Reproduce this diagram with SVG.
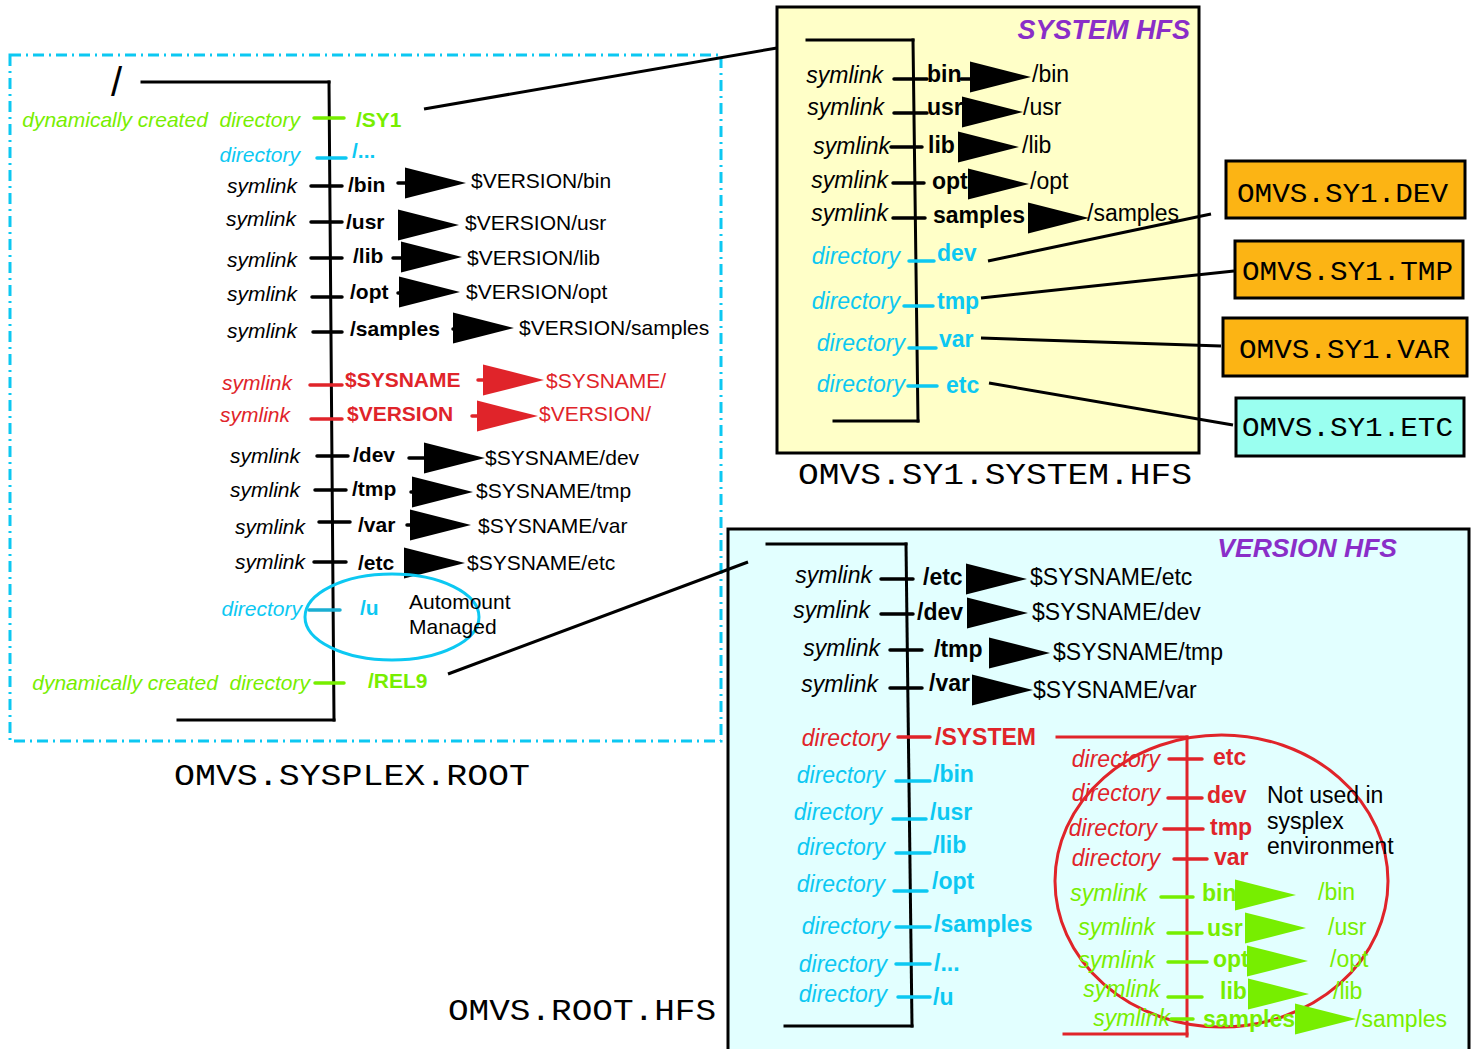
<svg xmlns="http://www.w3.org/2000/svg" xmlns:xlink="http://www.w3.org/1999/xlink" width="1477" height="1049" viewBox="0 0 1477 1049">
<defs>
<style>
text{font-family:"Liberation Sans",Arial,Helvetica,sans-serif;font-size:21px;fill:#000}
.l{font-style:italic;text-anchor:end}
.n{font-weight:bold}
.m{font-family:"Liberation Mono","Courier New",monospace;font-size:30px}
.big text{font-size:23px}
.big text.m{font-size:30px}
line{stroke-width:3.5;stroke-linecap:round;stroke:#000}
.tree{stroke-width:3;stroke-linecap:square}
.K text{fill:#000}.K line{stroke:#000}.K use{fill:#000}
.G text{fill:#77ee00}.G line{stroke:#77ee00}.G use{fill:#77ee00}
.C text{fill:#0cc8f2}.C line{stroke:#0cc8f2}.C use{fill:#0cc8f2}
.R text{fill:#e0242a}.R line{stroke:#e0242a}.R use{fill:#e0242a}
.conn line{stroke:#000;stroke-width:3;stroke-linecap:butt}
.ttl{font-weight:bold;font-style:italic;fill:#8a2ec8}
</style>
<path id="tri" d="M0,-15.5 L61,0 L0,15.5 Z"/>
</defs>
<rect width="1477" height="1049" fill="#fff"/>

<!-- ===== Left panel: OMVS.SYSPLEX.ROOT ===== -->
<g id="sysplex-root">
<rect x="10" y="55" width="711" height="686" fill="none" stroke="#0cc8f2" stroke-width="3" stroke-dasharray="11 5 2 5"/>
<text x="111" y="96" style="font-size:40px">/</text>
<line class="tree" x1="142" y1="82" x2="329" y2="82"/>
<line class="tree" x1="329" y1="82" x2="334" y2="720"/>
<line class="tree" x1="178" y1="720" x2="334" y2="720"/>
<text class="m" x="174" y="785" textLength="356" lengthAdjust="spacingAndGlyphs">OMVS.SYSPLEX.ROOT</text>
</g>

<g id="l-sy1" class="G"><text class="l" x="300" y="127" style="white-space:pre">dynamically created  directory</text><line x1="314" y1="118" x2="344" y2="118"/><text class="n" x="356" y="127">/SY1</text></g>
<g id="l-dots" class="C"><text class="l" x="300" y="162">directory</text><line x1="317" y1="158" x2="346" y2="158"/><text class="n" x="352" y="158">/...</text></g>
<g id="l-bin" class="K"><text class="l" x="297" y="193">symlink</text><line x1="311" y1="186" x2="342" y2="186"/><text class="n" x="348" y="192">/bin</text><line x1="398" y1="183" x2="406" y2="183"/><use href="#tri" x="405" y="183"/><text x="471" y="188">$VERSION/bin</text></g>
<g id="l-usr" class="K"><text class="l" x="296" y="226">symlink</text><line x1="311" y1="222" x2="342" y2="222"/><text class="n" x="346" y="229">/usr</text><use href="#tri" x="398" y="225"/><text x="465" y="230">$VERSION/usr</text></g>
<g id="l-lib" class="K"><text class="l" x="297" y="267">symlink</text><line x1="311" y1="258" x2="342" y2="258"/><text class="n" x="353" y="263">/lib</text><line x1="393" y1="258" x2="402" y2="258"/><use href="#tri" x="401" y="257"/><text x="467" y="265">$VERSION/lib</text></g>
<g id="l-opt" class="K"><text class="l" x="297" y="301">symlink</text><line x1="312" y1="297" x2="342" y2="297"/><text class="n" x="350" y="299">/opt</text><line x1="398" y1="293" x2="401" y2="293"/><use href="#tri" x="399" y="292"/><text x="466" y="299">$VERSION/opt</text></g>
<g id="l-samples" class="K"><text class="l" x="297" y="338">symlink</text><line x1="313" y1="332" x2="342" y2="332"/><text class="n" x="350" y="336">/samples</text><line x1="453" y1="329" x2="456" y2="329"/><use href="#tri" x="453" y="328"/><text x="519" y="335">$VERSION/samples</text></g>
<g id="l-sysname" class="R"><text class="l" x="292" y="390">symlink</text><line x1="310" y1="385" x2="342" y2="385"/><text class="n" x="345" y="387">$SYSNAME</text><line x1="478" y1="380" x2="485" y2="380"/><use href="#tri" x="483" y="380"/><text x="546" y="388">$SYSNAME/</text></g>
<g id="l-version" class="R"><text class="l" x="290" y="422">symlink</text><line x1="311" y1="419" x2="342" y2="419"/><text class="n" x="347" y="421">$VERSION</text><line x1="472" y1="416" x2="479" y2="416"/><use href="#tri" x="477" y="416"/><text x="539" y="421">$VERSION/</text></g>
<g id="l-dev" class="K"><text class="l" x="300" y="463">symlink</text><line x1="317" y1="456" x2="348" y2="456"/><text class="n" x="353" y="462">/dev</text><line x1="409" y1="458" x2="425" y2="458"/><use href="#tri" x="424" y="458"/><text x="485" y="465">$SYSNAME/dev</text></g>
<g id="l-tmp" class="K"><text class="l" x="300" y="497">symlink</text><line x1="315" y1="490" x2="346" y2="490"/><text class="n" x="352" y="496">/tmp</text><line x1="411" y1="492" x2="414" y2="492"/><use href="#tri" x="412" y="492"/><text x="476" y="498">$SYSNAME/tmp</text></g>
<g id="l-var" class="K"><text class="l" x="305" y="534">symlink</text><line x1="319" y1="522" x2="350" y2="522"/><text class="n" x="358" y="532">/var</text><line x1="407" y1="525" x2="412" y2="525"/><use href="#tri" x="410" y="525"/><text x="478" y="533">$SYSNAME/var</text></g>
<g id="l-etc" class="K"><text class="l" x="305" y="569">symlink</text><line x1="314" y1="562" x2="346" y2="562"/><text class="n" x="358" y="570">/etc</text><use href="#tri" x="404" y="563"/><text x="467" y="570">$SYSNAME/etc</text></g>
<g id="l-u" class="C"><text class="l" x="302" y="616">directory</text><line x1="309" y1="610" x2="340" y2="610" style="stroke:#1aaed2"/><text class="n" x="360" y="615">/u</text><ellipse cx="392" cy="617" rx="87" ry="43" fill="none" stroke="#0cc8f2" stroke-width="3"/><text x="409" y="609" style="fill:#000">Automount</text><text x="409" y="634" style="fill:#000">Managed</text></g>
<g id="l-rel9" class="G"><text class="l" x="310" y="690" style="white-space:pre">dynamically created  directory</text><line x1="315" y1="683" x2="344" y2="683"/><text class="n" x="368" y="688">/REL9</text></g>

<!-- ===== System HFS ===== -->
<g id="system-hfs" class="big">
<rect x="777" y="7" width="422" height="446" fill="#ffffc8" stroke="#000" stroke-width="3"/>
<text class="ttl" x="1190" y="39" text-anchor="end" style="font-size:27px">SYSTEM HFS</text>
<line class="tree" x1="807" y1="40" x2="913" y2="40"/>
<line class="tree" x1="913" y1="40" x2="918" y2="421"/>
<line class="tree" x1="834" y1="421" x2="918" y2="421"/>
<text class="m" x="798" y="484" textLength="394" lengthAdjust="spacingAndGlyphs">OMVS.SY1.SYSTEM.HFS</text>
</g>
<g id="s-bin" class="K big"><text class="l" x="883" y="83">symlink</text><line x1="894" y1="79" x2="927" y2="79"/><text class="n" x="927" y="82">bin</text><line x1="961" y1="79" x2="971" y2="79"/><use href="#tri" x="970" y="77"/><text x="1032" y="82">/bin</text></g>
<g id="s-usr" class="K big"><text class="l" x="884" y="115">symlink</text><line x1="894" y1="113" x2="927" y2="113"/><text class="n" x="927" y="115">usr</text><use href="#tri" x="962" y="112"/><text x="1023" y="115">/usr</text></g>
<g id="s-lib" class="K big"><text class="l" x="890" y="154">symlink</text><line x1="891" y1="147" x2="922" y2="147"/><text class="n" x="928" y="153">lib</text><use href="#tri" x="958" y="147"/><text x="1022" y="153">/lib</text></g>
<g id="s-opt" class="K big"><text class="l" x="888" y="188">symlink</text><line x1="893" y1="183" x2="924" y2="183"/><text class="n" x="932" y="189">opt</text><use href="#tri" x="968" y="184"/><text x="1030" y="189">/opt</text></g>
<g id="s-samples" class="K big"><text class="l" x="888" y="221">symlink</text><line x1="893" y1="218" x2="925" y2="218"/><text class="n" x="933" y="223">samples</text><use href="#tri" x="1028" y="218"/><text x="1087" y="221">/samples</text></g>
<g id="s-dev" class="C big"><text class="l" x="900" y="264">directory</text><line x1="909" y1="261" x2="934" y2="261"/><text class="n" x="937" y="261">dev</text></g>
<g id="s-tmp" class="C big"><text class="l" x="900" y="309">directory</text><line x1="904" y1="306" x2="933" y2="306"/><text class="n" x="937" y="309">tmp</text></g>
<g id="s-var" class="C big"><text class="l" x="905" y="351">directory</text><line x1="909" y1="348" x2="936" y2="348"/><text class="n" x="939" y="347">var</text></g>
<g id="s-etc" class="C big"><text class="l" x="905" y="392">directory</text><line x1="908" y1="386" x2="937" y2="386"/><text class="n" x="946" y="393">etc</text></g>

<!-- ===== Data set boxes ===== -->
<g id="box-dev"><rect x="1226" y="161" width="239" height="57" fill="#fcb414" stroke="#000" stroke-width="3"/><text class="m" x="1237" y="202" textLength="211" lengthAdjust="spacingAndGlyphs" style="font-size:28px">OMVS.SY1.DEV</text></g>
<g id="box-tmp"><rect x="1235" y="241" width="228" height="57" fill="#fcb414" stroke="#000" stroke-width="3"/><text class="m" x="1242" y="280" textLength="211" lengthAdjust="spacingAndGlyphs" style="font-size:28px">OMVS.SY1.TMP</text></g>
<g id="box-var"><rect x="1223" y="318" width="244" height="58" fill="#fcb414" stroke="#000" stroke-width="3"/><text class="m" x="1239" y="358" textLength="211" lengthAdjust="spacingAndGlyphs" style="font-size:28px">OMVS.SY1.VAR</text></g>
<g id="box-etc"><rect x="1236" y="398" width="228" height="58" fill="#9afff0" stroke="#000" stroke-width="3"/><text class="m" x="1242" y="436" textLength="211" lengthAdjust="spacingAndGlyphs" style="font-size:28px">OMVS.SY1.ETC</text></g>

<!-- ===== Version HFS ===== -->
<g id="version-hfs" class="big">
<rect x="728" y="529" width="741" height="530" fill="#e2ffff" stroke="#000" stroke-width="3"/>
<text class="ttl" x="1397" y="557" text-anchor="end" style="font-size:26.5px">VERSION HFS</text>
<line class="tree" x1="767" y1="544" x2="906" y2="544"/>
<line class="tree" x1="906" y1="544" x2="912" y2="1026"/>
<line class="tree" x1="785" y1="1026" x2="912" y2="1026"/>
<text class="m" x="448" y="1020" textLength="268" lengthAdjust="spacingAndGlyphs">OMVS.ROOT.HFS</text>
</g>
<g id="v-etc" class="K big"><text class="l" x="872" y="583">symlink</text><line x1="881" y1="579" x2="913" y2="579"/><text class="n" x="923" y="585">/etc</text><use href="#tri" x="966" y="579"/><text x="1030" y="585">$SYSNAME/etc</text></g>
<g id="v-dev" class="K big"><text class="l" x="870" y="618">symlink</text><line x1="881" y1="614" x2="913" y2="614"/><text class="n" x="917" y="620">/dev</text><use href="#tri" x="967" y="613"/><text x="1032" y="620">$SYSNAME/dev</text></g>
<g id="v-tmp" class="K big"><text class="l" x="880" y="656">symlink</text><line x1="890" y1="650" x2="922" y2="650"/><text class="n" x="934" y="657">/tmp</text><use href="#tri" x="989" y="653"/><text x="1053" y="660">$SYSNAME/tmp</text></g>
<g id="v-var" class="K big"><text class="l" x="878" y="692">symlink</text><line x1="890" y1="688" x2="922" y2="688"/><text class="n" x="929" y="691">/var</text><use href="#tri" x="972" y="690"/><text x="1033" y="698">$SYSNAME/var</text></g>
<g id="v-system" class="R big"><text class="l" x="890" y="746">directory</text><line x1="898" y1="737" x2="930" y2="737"/><text class="n" x="935" y="745">/SYSTEM</text>
<line class="tree" x1="1057" y1="737" x2="1187" y2="737"/><line class="tree" x1="1187" y1="737" x2="1187" y2="1036"/><line class="tree" x1="1064" y1="1034" x2="1187" y2="1034"/></g>
<g id="v-bin" class="C big"><text class="l" x="885" y="783">directory</text><line x1="896" y1="781" x2="930" y2="781"/><text class="n" x="933" y="782">/bin</text></g>
<g id="v-usr" class="C big"><text class="l" x="882" y="820">directory</text><line x1="893" y1="819" x2="926" y2="819"/><text class="n" x="930" y="820">/usr</text></g>
<g id="v-lib" class="C big"><text class="l" x="885" y="855">directory</text><line x1="896" y1="853" x2="930" y2="853"/><text class="n" x="933" y="853">/lib</text></g>
<g id="v-opt" class="C big"><text class="l" x="885" y="892">directory</text><line x1="894" y1="891" x2="927" y2="891"/><text class="n" x="932" y="889">/opt</text></g>
<g id="v-samples" class="C big"><text class="l" x="890" y="934">directory</text><line x1="896" y1="927" x2="930" y2="927"/><text class="n" x="934" y="932">/samples</text></g>
<g id="v-dots" class="C big"><text class="l" x="887" y="972">directory</text><line x1="896" y1="964" x2="930" y2="964"/><text class="n" x="934" y="971">/...</text></g>
<g id="v-u" class="C big"><text class="l" x="887" y="1002">directory</text><line x1="898" y1="997" x2="930" y2="997"/><text class="n" x="933" y="1005">/u</text></g>

<!-- ===== Not used in sysplex (red circle) ===== -->
<g id="not-used" class="big">
<ellipse cx="1221.5" cy="881" rx="166.5" ry="146" fill="none" stroke="#e0242a" stroke-width="3"/>
<text x="1267" y="803">Not used in</text>
<text x="1267" y="829">sysplex</text>
<text x="1267" y="854">environment</text>
</g>
<g id="n-etc" class="R big"><text class="l" x="1160" y="767">directory</text><line x1="1169" y1="759" x2="1202" y2="759"/><text class="n" x="1213" y="765">etc</text></g>
<g id="n-dev" class="R big"><text class="l" x="1160" y="801">directory</text><line x1="1168" y1="798" x2="1202" y2="798"/><text class="n" x="1207" y="803">dev</text></g>
<g id="n-tmp" class="R big"><text class="l" x="1157" y="836">directory</text><line x1="1164" y1="829" x2="1203" y2="829"/><text class="n" x="1210" y="835">tmp</text></g>
<g id="n-var" class="R big"><text class="l" x="1160" y="866">directory</text><line x1="1174" y1="859" x2="1207" y2="859"/><text class="n" x="1214" y="865">var</text></g>
<g id="n-bin" class="G big"><text class="l" x="1147" y="901">symlink</text><line x1="1161" y1="897" x2="1193" y2="897"/><text class="n" x="1202" y="901">bin</text><use href="#tri" x="1235" y="895"/><text x="1318" y="900">/bin</text></g>
<g id="n-usr" class="G big"><text class="l" x="1155" y="935">symlink</text><line x1="1168" y1="933" x2="1202" y2="933"/><text class="n" x="1207" y="936">usr</text><use href="#tri" x="1245" y="928"/><text x="1328" y="935">/usr</text></g>
<g id="n-opt" class="G big"><text class="l" x="1155" y="968">symlink</text><line x1="1168" y1="962" x2="1207" y2="962"/><text class="n" x="1213" y="967">opt</text><use href="#tri" x="1247" y="961"/><text x="1330" y="967">/opt</text></g>
<g id="n-lib" class="G big"><text class="l" x="1160" y="997">symlink</text><line x1="1168" y1="997" x2="1202" y2="997"/><text class="n" x="1220" y="999">lib</text><use href="#tri" x="1248" y="994"/><text x="1333" y="999">/lib</text></g>
<g id="n-samples" class="G big"><text class="l" x="1170" y="1026">symlink</text><line x1="1171" y1="1019" x2="1193" y2="1019"/><text class="n" x="1203" y="1027">samples</text><use href="#tri" x="1295" y="1019"/><text x="1355" y="1027">/samples</text></g>

<!-- ===== Connectors ===== -->
<g id="connectors" class="conn">
<line x1="424" y1="109" x2="777" y2="48"/>
<line x1="448" y1="674" x2="748" y2="562"/>
<line x1="988" y1="261" x2="1211" y2="214"/>
<line x1="981" y1="298" x2="1234" y2="271"/>
<line x1="981" y1="338" x2="1221" y2="346"/>
<line x1="989" y1="383" x2="1233" y2="425"/>
</g>
</svg>
